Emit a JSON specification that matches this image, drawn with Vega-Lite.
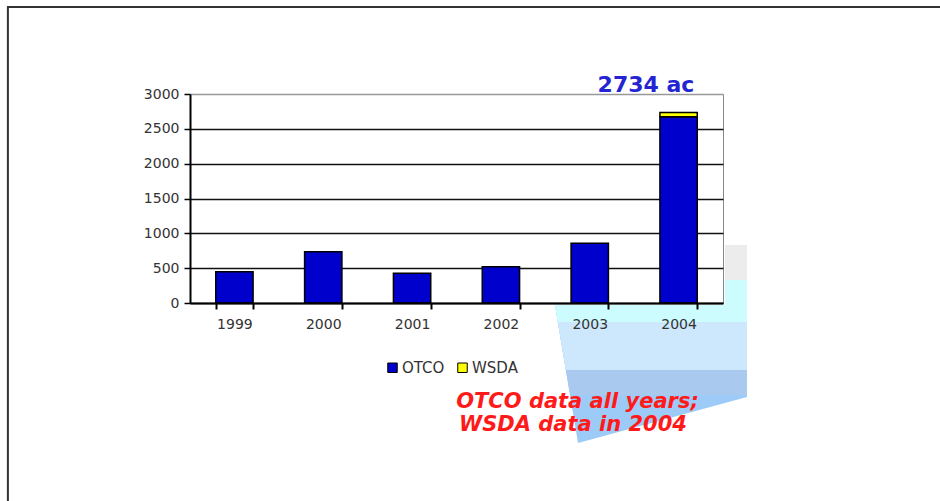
{
  "$schema": "https://vega.github.io/schema/vega-lite/v6.json",
  "width": 533,
  "height": 209,
  "autosize": {"type": "none"},
  "padding": {"left": 190, "top": 94, "right": 217, "bottom": 198},
  "background": "#ffffff",
  "config": {"view": {"stroke": "#888888", "strokeWidth": 1}},
  "datasets": {
    "acres": [
      {"year": "1999", "source": "OTCO", "acres": 450},
      {"year": "2000", "source": "OTCO", "acres": 737},
      {"year": "2001", "source": "OTCO", "acres": 428},
      {"year": "2002", "source": "OTCO", "acres": 521},
      {"year": "2003", "source": "OTCO", "acres": 857},
      {"year": "2004", "source": "OTCO", "acres": 2674},
      {"year": "2004", "source": "WSDA", "acres": 60}
    ],
    "callout": [
      {"piece": "A", "u": 4.109, "top": -28.7, "bot": -28.7},
      {"piece": "A", "u": 4.368, "top": -28.7, "bot": -2010},
      {"piece": "A", "u": 6.27, "top": -28.7, "bot": -1349},
      {"piece": "B", "u": 4.109, "top": -28.7, "bot": -28.7},
      {"piece": "B", "u": 4.278, "top": -28.7, "bot": -1321},
      {"piece": "B", "u": 6.27, "top": -28.7, "bot": -1321},
      {"piece": "C", "u": 4.109, "top": -28.7, "bot": -28.7},
      {"piece": "C", "u": 4.23, "top": -28.7, "bot": -962},
      {"piece": "C", "u": 6.27, "top": -28.7, "bot": -962},
      {"piece": "D", "u": 4.109, "top": -28.7, "bot": -28.7},
      {"piece": "D", "u": 4.14, "top": -28.7, "bot": -273},
      {"piece": "D", "u": 6.27, "top": -28.7, "bot": -273}
    ],
    "boxes": [
      {"kind": "gray", "u": 6.023, "u2": 6.27, "top": 833, "bot": 330},
      {"kind": "cyan", "u": 6.023, "u2": 6.27, "top": 330, "bot": -28.7}
    ],
    "frame": [
      {"u": -2.06, "u2": 8.45, "v": 4249, "v2": 4249},
      {"u": -2.05, "u2": -2.05, "v": 4249, "v2": -2842}
    ],
    "notes": [
      {"kind": "total", "u": 5.133, "v": 3029, "text": "2734 ac"},
      {"kind": "note", "u": 4.362, "v": -1507, "text": "OTCO data all years;"},
      {"kind": "note", "u": 4.311, "v": -1837, "text": "WSDA data in 2004"}
    ]
  },
  "resolve": {"scale": {"x": "independent", "y": "independent"}, "axis": {"x": "independent", "y": "independent"}},
  "layer": [
    {
      "data": {"name": "callout"},
      "transform": [{"filter": "datum.piece === 'A'"}],
      "mark": {"type": "area", "color": "#9dcbf7", "clip": false},
      "encoding": {
        "x": {"field": "u", "type": "quantitative", "scale": {"domain": [0, 6], "nice": false, "zero": false}, "axis": null},
        "y": {"field": "top", "type": "quantitative", "scale": {"domain": [0, 3000], "nice": false, "zero": false}, "axis": null},
        "y2": {"field": "bot"}
      }
    },
    {
      "data": {"name": "callout"},
      "transform": [{"filter": "datum.piece === 'B'"}],
      "mark": {"type": "area", "color": "#aac9ee", "clip": false},
      "encoding": {
        "x": {"field": "u", "type": "quantitative", "scale": {"domain": [0, 6], "nice": false, "zero": false}, "axis": null},
        "y": {"field": "top", "type": "quantitative", "scale": {"domain": [0, 3000], "nice": false, "zero": false}, "axis": null},
        "y2": {"field": "bot"}
      }
    },
    {
      "data": {"name": "callout"},
      "transform": [{"filter": "datum.piece === 'C'"}],
      "mark": {"type": "area", "color": "#cde8fc", "clip": false},
      "encoding": {
        "x": {"field": "u", "type": "quantitative", "scale": {"domain": [0, 6], "nice": false, "zero": false}, "axis": null},
        "y": {"field": "top", "type": "quantitative", "scale": {"domain": [0, 3000], "nice": false, "zero": false}, "axis": null},
        "y2": {"field": "bot"}
      }
    },
    {
      "data": {"name": "callout"},
      "transform": [{"filter": "datum.piece === 'D'"}],
      "mark": {"type": "area", "color": "#cdfcff", "clip": false},
      "encoding": {
        "x": {"field": "u", "type": "quantitative", "scale": {"domain": [0, 6], "nice": false, "zero": false}, "axis": null},
        "y": {"field": "top", "type": "quantitative", "scale": {"domain": [0, 3000], "nice": false, "zero": false}, "axis": null},
        "y2": {"field": "bot"}
      }
    },
    {
      "data": {"name": "boxes"},
      "transform": [{"filter": "datum.kind === 'gray'"}],
      "mark": {"type": "rect", "clip": false, "color": "#ececec"},
      "encoding": {
        "x": {"field": "u", "type": "quantitative", "scale": {"domain": [0, 6], "nice": false, "zero": false}, "axis": null},
        "x2": {"field": "u2"},
        "y": {"field": "top", "type": "quantitative", "scale": {"domain": [0, 3000], "nice": false, "zero": false}, "axis": null},
        "y2": {"field": "bot"}
      }
    },
    {
      "data": {"name": "boxes"},
      "transform": [{"filter": "datum.kind === 'cyan'"}],
      "mark": {"type": "rect", "clip": false, "color": "#cdfcff"},
      "encoding": {
        "x": {"field": "u", "type": "quantitative", "scale": {"domain": [0, 6], "nice": false, "zero": false}, "axis": null},
        "x2": {"field": "u2"},
        "y": {"field": "top", "type": "quantitative", "scale": {"domain": [0, 3000], "nice": false, "zero": false}, "axis": null},
        "y2": {"field": "bot"}
      }
    },
    {
      "data": {"name": "frame"},
      "mark": {"type": "rule", "color": "#333333", "strokeWidth": 2, "clip": false},
      "encoding": {
        "x": {"field": "u", "type": "quantitative", "scale": {"domain": [0, 6], "nice": false, "zero": false}, "axis": null},
        "x2": {"field": "u2"},
        "y": {"field": "v", "type": "quantitative", "scale": {"domain": [0, 3000], "nice": false, "zero": false}, "axis": null},
        "y2": {"field": "v2"}
      }
    },
    {
      "data": {"name": "acres"},
      "mark": {"type": "bar", "stroke": "#000000", "strokeWidth": 1.5},
      "encoding": {
        "x": {
          "field": "year", "type": "nominal",
          "scale": {"paddingInner": 0.58, "paddingOuter": 0.29},
          "axis": {
            "title": null, "labelAngle": 0, "tickBand": "extent", "zindex": 1,
            "domainColor": "#000000", "domainWidth": 2,
            "tickColor": "#000000", "tickWidth": 2, "tickSize": 6,
            "labelFont": "DejaVu Sans", "labelFontSize": 14, "labelColor": "#333333",
            "labelPadding": 8, "grid": false
          }
        },
        "y": {
          "field": "acres", "type": "quantitative", "stack": "zero",
          "scale": {"domain": [0, 3000], "nice": false},
          "axis": {
            "title": null, "values": [0, 500, 1000, 1500, 2000, 2500, 3000], "format": "d",
            "grid": true,
            "gridColor": {"condition": {"test": "datum.value === 3000", "value": "#999999"}, "value": "#111111"},
            "gridWidth": 1.5,
            "domainColor": "#000000", "domainWidth": 2,
            "tickColor": "#000000", "tickWidth": 1.5, "tickSize": 6,
            "labelFont": "DejaVu Sans", "labelFontSize": 14, "labelColor": "#333333",
            "labelPadding": 5
          }
        },
        "order": {"field": "source", "sort": "ascending"},
        "color": {
          "field": "source", "type": "nominal",
          "scale": {"domain": ["OTCO", "WSDA"], "range": ["#0000cc", "#ffff00"]},
          "legend": {
            "title": null, "orient": "none", "direction": "horizontal",
            "legendX": 195, "legendY": 266, "padding": 0,
            "symbolType": "square", "symbolSize": 90,
            "symbolStrokeColor": "#000000", "symbolStrokeWidth": 1,
            "labelFont": "DejaVu Sans", "labelFontSize": 15, "labelColor": "#333333",
            "labelOffset": 2, "columnPadding": 10
          }
        }
      }
    },
    {
      "data": {"name": "notes"},
      "transform": [{"filter": "datum.kind === 'total'"}],
      "mark": {"type": "text", "clip": false, "align": "center", "baseline": "alphabetic", "font": "DejaVu Sans", "fontWeight": "bold", "fontSize": 22, "color": "#2424d2"},
      "encoding": {
        "x": {"field": "u", "type": "quantitative", "scale": {"domain": [0, 6], "nice": false, "zero": false}, "axis": null},
        "y": {"field": "v", "type": "quantitative", "scale": {"domain": [0, 3000], "nice": false, "zero": false}, "axis": null},
        "text": {"field": "text", "type": "nominal"}
      }
    },
    {
      "data": {"name": "notes"},
      "transform": [{"filter": "datum.kind === 'note'"}],
      "mark": {"type": "text", "clip": false, "align": "center", "baseline": "alphabetic", "font": "DejaVu Sans", "fontWeight": "bold", "fontStyle": "italic", "fontSize": 21, "color": "#ff1a1a"},
      "encoding": {
        "x": {"field": "u", "type": "quantitative", "scale": {"domain": [0, 6], "nice": false, "zero": false}, "axis": null},
        "y": {"field": "v", "type": "quantitative", "scale": {"domain": [0, 3000], "nice": false, "zero": false}, "axis": null},
        "text": {"field": "text", "type": "nominal"}
      }
    }
  ]
}
